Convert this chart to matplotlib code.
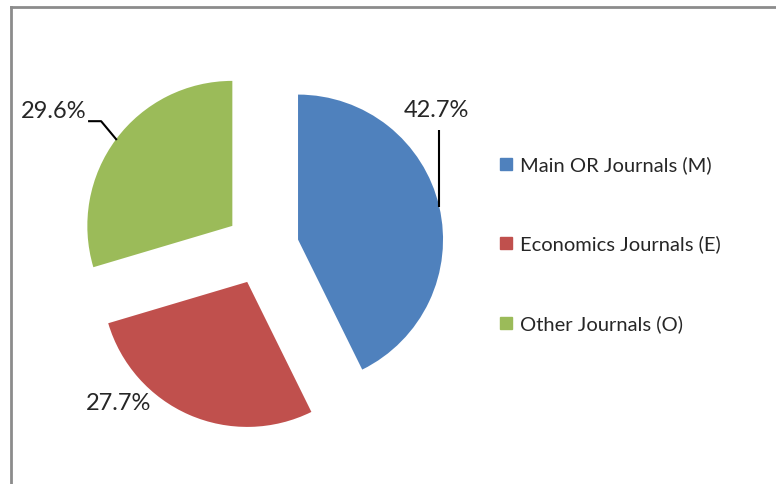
import numpy as np
import matplotlib.pyplot as plt
from matplotlib.lines import Line2D

categories = ['Main OR Journals (M)', 'Economics Journals (E)', 'Other Journals (O)']
shares = [42.7, 27.7, 29.6]
colors = ['#4F81BD', '#C0504D', '#9BBB59']

plt.rcParams['font.family'] = ['Lato', 'DejaVu Sans']
text_color = '#262626'

fig = plt.figure(figsize=(7.76, 4.84), dpi=100)
ax = fig.add_axes([0, 0, 1, 1])

# pie drawn in pixel-like coordinates so the layout is easy to place
center = (262, 236)
radius = 145
gap = 37  # explode is in data units here
wedges, _ = ax.pie(shares, colors=colors, startangle=90, counterclock=False,
                   center=center, radius=radius, explode=[gap] * 3,
                   wedgeprops=dict(linewidth=0))
ax.set_xlim(0, 776)
ax.set_ylim(0, 484)
ax.set_aspect('equal')
ax.axis('off')


def arc_mid(w):
    ang = np.deg2rad((w.theta1 + w.theta2) / 2)
    cx, cy = w.center
    return cx + w.r * np.cos(ang), cy + w.r * np.sin(ang)


# data labels with leader lines
lbl = ['%.1f%%' % s for s in shares]
fs = 17
bx, by = arc_mid(wedges[0])
ax.plot([bx, bx], [by, by + 77], color='black', lw=1.5, solid_capstyle='butt')
ax.text(bx - 3, by + 96, lbl[0], ha='center', va='center', fontsize=fs, color=text_color)

rx, ry = arc_mid(wedges[1])
ax.text(rx - 71, ry + 11, lbl[1], ha='center', va='center', fontsize=fs, color=text_color)

gx, gy = arc_mid(wedges[2])
ax.plot([gx, gx - 15, gx - 27], [gy, gy + 18, gy + 18], color='black', lw=1.5)
ax.text(gx - 30, gy + 28, lbl[2], ha='right', va='center', fontsize=fs, color=text_color)

handles = [Line2D([], [], marker='s', linestyle='none', markersize=9,
                  markerfacecolor=c, markeredgecolor=c) for c in colors]
ax.legend(handles, categories, loc='center left', bbox_to_anchor=(0.6185, 0.495),
          frameon=False, fontsize=14.5, labelspacing=3.05, handlelength=0.8,
          handletextpad=0.3, labelcolor=text_color)

# chart area border, cut off on the right and bottom
fig.add_artist(Line2D([11 / 776, 1], [1 - 7 / 484, 1 - 7 / 484], transform=fig.transFigure,
                      color='#8c8c8c', lw=2))
fig.add_artist(Line2D([11 / 776, 11 / 776], [0, 1 - 7 / 484], transform=fig.transFigure,
                      color='#8c8c8c', lw=2))

fig.savefig('out.png', dpi=100)
